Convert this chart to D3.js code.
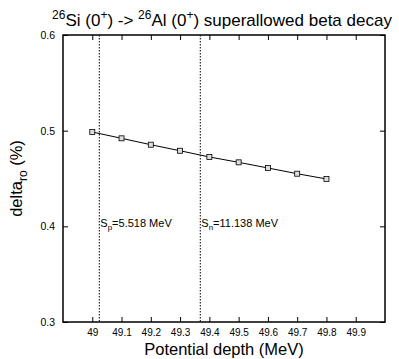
<!DOCTYPE html>
<html><head><meta charset="utf-8">
<script src="https://cdn.jsdelivr.net/npm/d3@7"></script>
<style>body{margin:0;background:#fff}svg{display:block}text{font-family:"Liberation Sans",Arial,sans-serif;fill:#000}</style>
</head><body>
<svg id="c" width="399" height="359"></svg>
<script>
const depths = [49.0, 49.1, 49.2, 49.3, 49.4, 49.5, 49.6, 49.7, 49.8];
const deltaRo = [0.4986, 0.4920, 0.4853, 0.4790, 0.4725, 0.4669, 0.4610, 0.4550, 0.4495];
const xTicks = [49, 49.1, 49.2, 49.3, 49.4, 49.5, 49.6, 49.7, 49.8, 49.9];
const yTicks = [0.3, 0.4, 0.5, 0.6];
const thresholds = [49.024, 49.369];
const thresholdLabels = [["S","p","=5.518 MeV"],["S","n","=11.138 MeV"]];

const svg = d3.select("#c");
const L=63,R=385,T=35,B=322;
const x = d3.scaleLinear().domain([48.9,50.0]).range([L,R]);
const y = d3.scaleLinear().domain([0.3,0.6]).range([B,T]);

const tl=5;
const g = svg.append("g");
g.append("g").attr("transform",`translate(0,${B})`)
 .call(d3.axisBottom(x).tickValues(xTicks).tickSizeInner(-tl).tickSizeOuter(0).tickPadding(7).tickFormat(d3.format("")))
 .call(a=>{a.select(".domain").remove();a.selectAll("text").attr("font-size",10).attr("fill","#000");});
g.append("g").attr("transform",`translate(0,${T})`)
 .call(d3.axisTop(x).tickValues(xTicks).tickSizeInner(-tl).tickSizeOuter(0).tickFormat(""))
 .call(a=>a.select(".domain").remove());
g.append("g").attr("transform",`translate(${L},0)`)
 .call(d3.axisLeft(y).tickValues(yTicks).tickSizeInner(-tl).tickSizeOuter(0).tickPadding(8).tickFormat(d3.format(".1f")))
 .call(a=>{a.select(".domain").remove();a.selectAll("text").attr("font-size",10.5).attr("fill","#000");});
g.append("g").attr("transform",`translate(${R},0)`)
 .call(d3.axisRight(y).tickValues(yTicks).tickSizeInner(-tl).tickSizeOuter(0).tickFormat(""))
 .call(a=>a.select(".domain").remove());
svg.append("rect").attr("x",L).attr("y",T).attr("width",R-L).attr("height",B-T)
 .attr("fill","none").attr("stroke","#000").attr("stroke-width",1.5);

thresholds.forEach((t,i)=>{
  svg.append("line").attr("x1",x(t)).attr("x2",x(t)).attr("y1",T).attr("y2",B)
    .attr("stroke","#000").attr("stroke-width",1).attr("stroke-dasharray","1.5,1.5");
  const lab = thresholdLabels[i];
  const tx = svg.append("text").attr("x",x(t)+1).attr("y",227).attr("font-size",11);
  tx.append("tspan").text(lab[0]);
  tx.append("tspan").attr("font-size",8).attr("dy",3).text(lab[1]);
  tx.append("tspan").attr("dy",-3).text(lab[2]);
});

const pts = depths.map((d,i)=>[d,deltaRo[i]]);
svg.append("path").datum(pts).attr("fill","none").attr("stroke","#000").attr("stroke-width",1)
  .attr("d",d3.line().x(d=>x(d[0])).y(d=>y(d[1])));
svg.selectAll("rect.m").data(pts).enter().append("rect").attr("class","m")
  .attr("x",d=>x(d[0])-2.5).attr("y",d=>y(d[1])-2.5).attr("width",5).attr("height",5)
  .attr("fill","#ddd").attr("stroke","#000").attr("stroke-width",0.8);

const ti = svg.append("text").attr("x",222).attr("y",26).attr("text-anchor","middle").attr("font-size",17);
const sup=(t)=>{ti.append("tspan").attr("font-size",12).attr("dy",-7).text(t);};
const nor=(t)=>{ti.append("tspan").attr("dy",7).text(t);};
sup("26"); nor("Si (0"); sup("+"); nor(") -> "); sup("26"); nor("Al (0"); sup("+"); nor(") superallowed beta decay");

svg.append("text").attr("x",224).attr("y",355).attr("text-anchor","middle").attr("font-size",16.5).text("Potential depth (MeV)");
const yl = svg.append("text").attr("transform",`translate(22,${(T+B)/2}) rotate(-90)`).attr("text-anchor","middle").attr("font-size",16.5);
yl.append("tspan").text("delta");
yl.append("tspan").attr("font-size",12).attr("dy",5).text("ro");
yl.append("tspan").attr("dy",-5).text(" (%)");
</script>
</body></html>
